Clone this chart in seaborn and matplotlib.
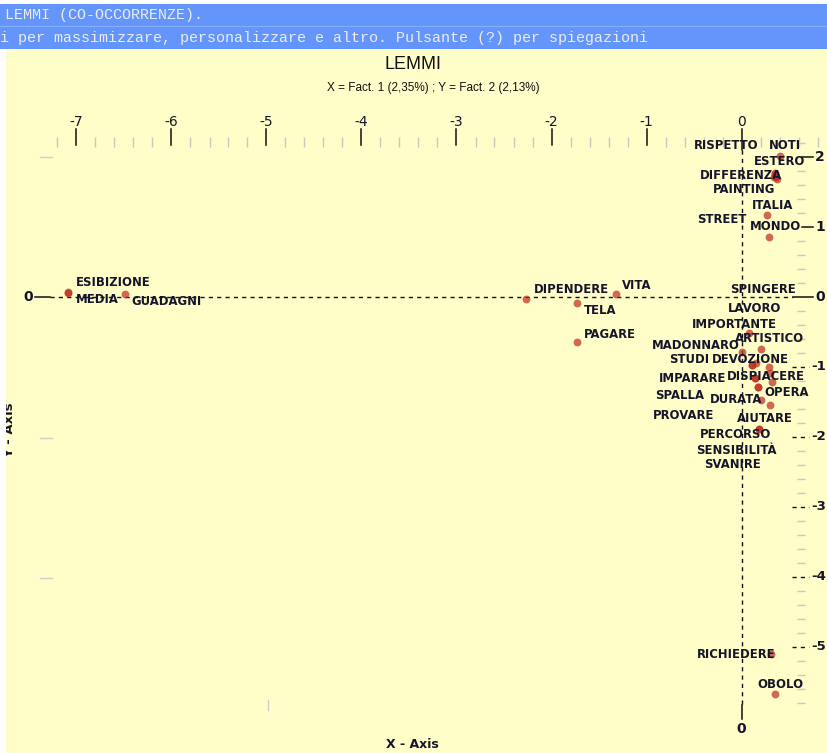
import numpy as np
import pandas as pd
import matplotlib
matplotlib.use("Agg")
import matplotlib.pyplot as plt
import seaborn as sns
from matplotlib.patches import Rectangle

# words and their coordinates on factor 1 / factor 2
words = ["ESIBIZIONE", "MEDIA", "GUADAGNI", "DIPENDERE", "TELA", "VITA", "PAGARE",
         "NOTI", "RISPETTO", "ESTERO", "DIFFERENZA", "PAINTING", "ITALIA", "STREET", "MONDO",
         "SPINGERE", "LAVORO", "IMPORTANTE", "ARTISTICO", "MADONNARO", "STUDI", "DEVOZIONE",
         "IMPARARE", "DISPIACERE", "OPERA", "SPALLA", "DURATA", "PROVARE", "AIUTARE",
         "PERCORSO", "SENSIBILITÀ", "SVANIRE", "RICHIEDERE", "OBOLO"]
fact1 = [-7.09, -7.09, -6.49, -2.27, -1.73, -1.32, -1.73,
         0.40, 0.35, 0.35, 0.37, 0.34, 0.27, 0.36, 0.29,
         0.29, 0.30, 0.08, 0.21, 0.01, 0.11, 0.15,
         0.17, 0.14, 0.32, 0.30, 0.21, 0.17, 0.18,
         0.18, 0.11, 0.14, 0.31, 0.35]
fact2 = [0.07, 0.06, 0.04, -0.03, -0.09, 0.04, -0.65,
         2.02, 1.75, 1.77, 1.68, 1.71, 1.17, 1.72, 0.86,
         -1.00, -1.09, -0.51, -0.75, -0.78, -0.97, -0.95,
         -1.28, -1.16, -1.22, -1.54, -1.47, -1.28, -1.88,
         -1.88, -0.97, -1.16, -5.10, -5.67]

x_ticks = [-7, -6, -5, -4, -3, -2, -1, 0]
y_ticks = [2, 1, 0, -1, -2, -3, -4, -5]

title = "LEMMI"
subtitle = "X = Fact. 1 (2,35%) ; Y = Fact. 2 (2,13%)"
header1 = "LEMMI (CO-OCCORRENZE)."
header2 = "i per massimizzare, personalizzare e altro. Pulsante (?) per spiegazioni"

# label placement (left edge / vertical centre, in factor units)
label_pos = [(-7.01, 0.20), (-7.01, -0.04), (-6.42, -0.07), (-2.19, 0.10), (-1.66, -0.20),
             (-1.26, 0.16), (-1.66, -0.53),
             (0.29, 2.16), (-0.50, 2.16), (0.13, 1.93), (-0.44, 1.73), (-0.30, 1.53),
             (0.11, 1.31), (-0.47, 1.10), (0.09, 1.00),
             (-0.12, 0.10), (-0.14, -0.17), (-0.52, -0.39), (-0.07, -0.60), (-0.94, -0.69),
             (-0.76, -0.89), (-0.31, -0.89), (-0.87, -1.16), (-0.15, -1.14), (0.24, -1.37),
             (-0.91, -1.41), (-0.33, -1.46), (-0.93, -1.69), (-0.05, -1.73),
             (-0.44, -1.97), (-0.48, -2.19), (-0.39, -2.40), (-0.47, -5.11), (0.17, -5.53)]

df = pd.DataFrame({"word": words, "fact1": fact1, "fact2": fact2})

W, H = 827, 753
BG = "#fffdc8"
INK = "#15152a"

# pixel -> factor units (only used for decorations)
X0, SX = 741.5, 95.0
Y0, SY = 297.0, 70.0
def dx(px):
    return (px - X0) / SX
def dy(py):
    return (Y0 - py) / SY

fig = plt.figure(figsize=(W / 100, H / 100), dpi=100, facecolor=BG)
ax = fig.add_axes([0, 0, 1, 1])
ax.set_axis_off()

sns.scatterplot(data=df, x="fact1", y="fact2", color="#be2a1e", alpha=0.7, s=32,
                linewidth=0, legend=False, ax=ax, zorder=3)

for w, (lx, ly) in zip(words, label_pos):
    ax.text(lx, ly, w, ha="left", va="center", fontsize=8.4, fontweight="bold",
            color=INK, zorder=4)

dash = (0, (3, 3))
# horizontal zero line
ax.plot([dx(35), dx(50)], [0, 0], color="#111", lw=1.1, zorder=2)
ax.plot([dx(50), dx(793)], [0, 0], color="#111", lw=1.0, ls=dash, zorder=2)
ax.text(dx(28), 0, "0", ha="center", va="center", fontsize=10, fontweight="bold", color=INK)
# vertical zero line
ax.plot([0, 0], [dy(150), dy(705)], color="#111", lw=1.0, ls=dash, zorder=2)
ax.plot([0, 0], [dy(705), dy(719)], color="#111", lw=1.1, zorder=2)
ax.text(0, dy(729), "0", ha="center", va="center", fontsize=10, fontweight="bold", color=INK)

# top ruler
minor_x = [v for v in np.round(np.arange(-7.2, 0.81, 0.2), 1) if abs(v - round(v)) > 0.01]
ax.vlines(minor_x, dy(147), dy(137), color="#c8c8c8", lw=1.0, zorder=1)
for v in x_ticks:
    bottom = dy(150) if v == 0 else dy(145)
    ax.plot([v, v], [dy(129), bottom], color="#111", lw=1.1, zorder=2)
    ax.text(v, dy(122), str(v), ha="center", va="center", fontsize=10, color=INK)

# right ruler
minor_y = [v for v in np.round(np.arange(2.2, -5.81, -0.2), 1) if abs(v - round(v)) > 0.01]
ax.hlines(minor_y, dx(797), dx(805), color="#c8c8c8", lw=1.0, zorder=1)
for v in y_ticks:
    if v > 0:
        ax.plot([dx(802), dx(813)], [v, v], color="#111", lw=1.1, zorder=2)
        ax.text(dx(815), v, str(v), ha="left", va="center", fontsize=10,
                fontweight="bold", color=INK)
    elif v == 0:
        ax.plot([dx(793), dx(813)], [v, v], color="#111", lw=1.1, zorder=2)
        ax.text(dx(815), v, str(v), ha="left", va="center", fontsize=10,
                fontweight="bold", color=INK)
    else:
        ax.plot([dx(792), dx(809)], [v, v], color="#111", lw=1.0, ls=dash, zorder=2)
        ax.text(dx(811), v, str(v), ha="left", va="center", fontsize=9.5,
                fontweight="bold", color=INK)

# faint leftover ticks
for py in [157, 438, 578]:
    ax.plot([dx(40), dx(52)], [dy(py), dy(py)], color="#cfcfcf", lw=1.0, zorder=1)
ax.plot([dx(268), dx(268)], [dy(700), dy(710)], color="#cfcfcf", lw=1.0, zorder=1)

ax.text(dx(412), dy(745), "X - Axis", ha="center", va="center", fontsize=9,
        fontweight="bold", color=INK)
ax.text(dx(10), dy(430), "Y - Axis", ha="center", va="center", fontsize=9.5,
        fontweight="bold", color=INK, rotation=90)

sans_narrow = ["Liberation Sans Narrow", "Liberation Sans", "DejaVu Sans"]
ax.text(dx(413), dy(65), title, ha="center", va="center", fontsize=13,
        family=sans_narrow, color="#111")
ax.text(dx(433), dy(88), subtitle, ha="center", va="center", fontsize=8.5,
        family=sans_narrow, color="#111")

ax.set_xlim(dx(0), dx(W))
ax.set_ylim(dy(H), dy(0))

# window header and margins
fig.patches.append(Rectangle((0, 1 - 4 / H), 1, 4 / H, transform=fig.transFigure,
                             facecolor="white", edgecolor="none", zorder=5))
fig.patches.append(Rectangle((0, 1 - 49 / H), 1, 45 / H, transform=fig.transFigure,
                             facecolor="#6495fa", edgecolor="none", zorder=5))
fig.patches.append(Rectangle((0, 1 - 27 / H), 1, 1 / H, transform=fig.transFigure,
                             facecolor="#86aefc", edgecolor="none", zorder=5))
fig.patches.append(Rectangle((0, 0), 6 / W, 1 - 49 / H, transform=fig.transFigure,
                             facecolor="white", edgecolor="none", zorder=5))
fig.text(5 / W, 1 - 15 / H, header1, ha="left", va="center", fontsize=10.8,
         family="Liberation Mono", color="#ececf2", zorder=6)
fig.text(0, 1 - 38 / H, header2, ha="left", va="center", fontsize=10.8,
         family="Liberation Mono", color="#ececf2", zorder=6)

fig.savefig("out.png", dpi=100, facecolor=fig.get_facecolor())
